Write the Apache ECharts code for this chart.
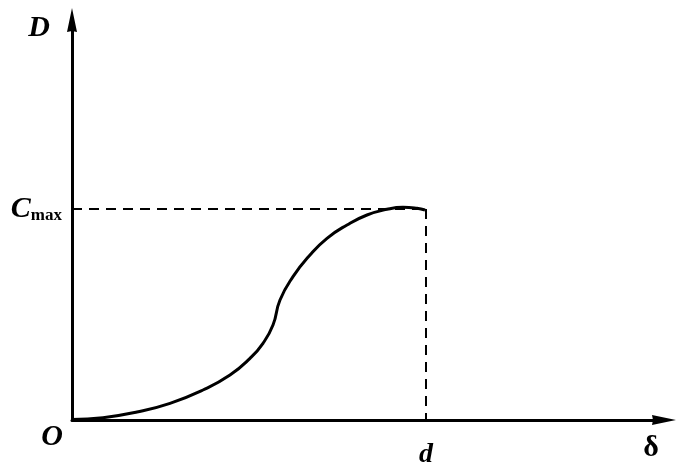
<!DOCTYPE html>
<html>
<head>
<meta charset="utf-8">
<script src="https://cdn.jsdelivr.net/npm/echarts@6/dist/echarts.min.js"></script>
<style>html,body{margin:0;padding:0;background:#fff}#c{width:700px;height:475px}</style>
</head>
<body>
<div id="c"></div>
<script>
// Curve D(δ) (x: δ, y: D)
const curveX = [0, 31, 65, 98, 131, 158, 178, 191, 201, 208, 221, 238, 255, 275, 295, 315, 331, 345, 353];
const curveY = [0.5, 2.3, 8, 16.7, 30, 45, 61.7, 76.7, 95, 120, 143.3, 165, 181.7, 195, 205, 210.7, 212.7, 211.7, 210];
const dValue = 354;      // position of "d" on δ axis
const cMaxValue = 211;   // level of C_max on D axis
const xMax = 592;
const yMax = 400;
const xTickLabels = ['d'];
const yTickLabels = ['C_max'];

const curve = curveX.map((x, i) => [x, curveY[i]]);
const hDash = [[0, cMaxValue], [dValue, cMaxValue]];
const vDash = [[dValue, cMaxValue], [dValue, 0]];

const font = '"Liberation Serif", "Times New Roman", serif';
const arrowPath = 'path://M5,0 L10,24 L5,23 L0,24 Z';
const chart = echarts.init(document.getElementById('c'), null, {renderer: 'canvas'});
chart.setOption({
  animation: false,
  backgroundColor: '#fff',
  grid: {left: 72, right: 36, top: 20, bottom: 55},
  xAxis: {
    type: 'value', min: 0, max: xMax,
    axisLine: {show: true, symbol: ['none', arrowPath], symbolSize: [10, 24], lineStyle: {color: '#000', width: 3}},
    axisTick: {show: false},
    splitLine: {show: false},
    axisLabel: {
      customValues: [dValue],
      formatter: () => xTickLabels[0],
      margin: 21,
      color: '#000', fontFamily: font, fontSize: 28, fontWeight: 'bold', fontStyle: 'italic'
    }
  },
  yAxis: {
    type: 'value', min: 0, max: yMax,
    axisLine: {show: true, symbol: ['none', arrowPath], symbolSize: [10, 24], lineStyle: {color: '#000', width: 3}},
    axisTick: {show: false},
    splitLine: {show: false},
    axisLabel: {
      customValues: [cMaxValue],
      formatter: () => { const p = yTickLabels[0].split('_'); return '{c|' + p[0] + '}{m|' + p[1] + '}'; },
      margin: 10,
      rich: {
        c: {fontFamily: font, fontSize: 30, fontWeight: 'bold', fontStyle: 'italic', color: '#000', verticalAlign: 'bottom', lineHeight: 30},
        m: {fontFamily: font, fontSize: 17, fontWeight: 'bold', color: '#000', verticalAlign: 'bottom', lineHeight: 24}
      }
    }
  },
  series: [
    {type: 'line', data: curve, smooth: 0.5, showSymbol: false, lineStyle: {color: '#000', width: 3}, z: 3},
    {type: 'line', data: hDash, showSymbol: false, lineStyle: {color: '#000', width: 2, type: [10, 7]}},
    {type: 'line', data: vDash, showSymbol: false, lineStyle: {color: '#000', width: 2, type: [10, 7]}}
  ],
  graphic: [
    {type: 'text', x: 39, y: 28, style: {text: 'D', fontFamily: font, fontSize: 30, fontWeight: 'bold', fontStyle: 'italic', fill: '#000', align: 'center', verticalAlign: 'middle'}},
    {type: 'text', x: 52, y: 437, style: {text: 'O', fontFamily: font, fontSize: 30, fontWeight: 'bold', fontStyle: 'italic', fill: '#000', align: 'center', verticalAlign: 'middle'}},
    {type: 'text', x: 651, y: 448, style: {text: 'δ', fontFamily: font, fontSize: 30, fontWeight: 'bold', fill: '#000', align: 'center', verticalAlign: 'middle'}}
  ]
});
</script>
</body>
</html>
